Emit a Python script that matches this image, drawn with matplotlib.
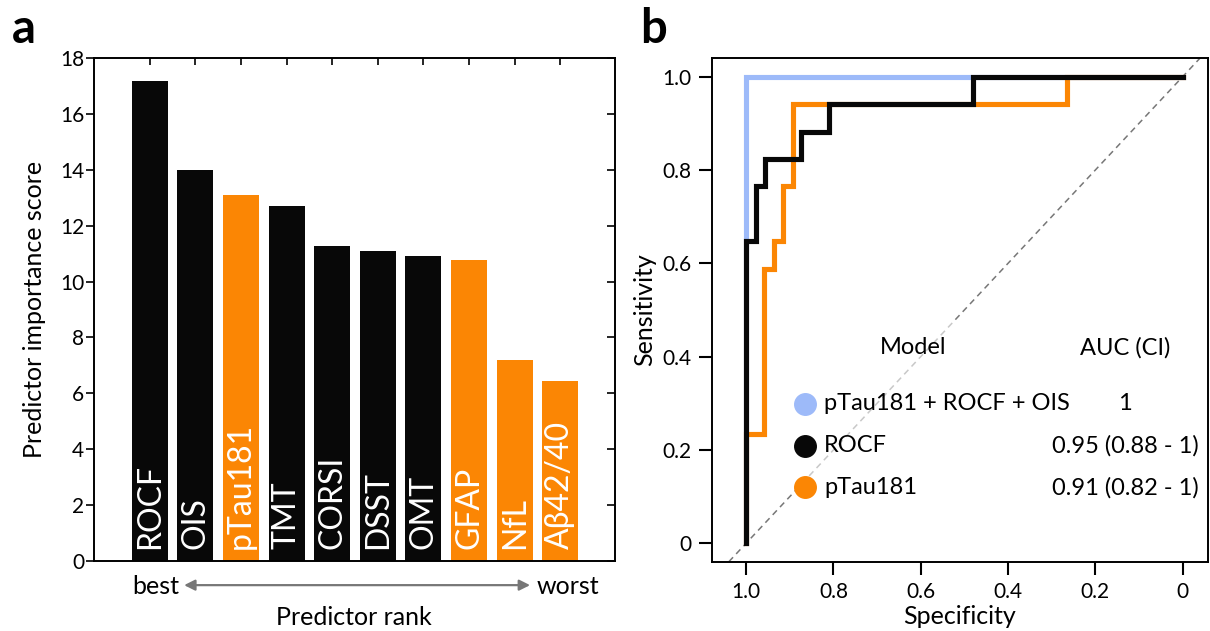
import matplotlib
matplotlib.use("Agg")
import matplotlib.pyplot as plt
from matplotlib.patches import Rectangle

plt.rcParams['font.family'] = ['Lato', 'DejaVu Sans']

# ---- panel a data ----
predictors = ['ROCF', 'OIS', 'pTau181', 'TMT', 'CORSI', 'DSST', 'OMT', 'GFAP', 'NfL', 'Aβ42/40']
importance = [17.18, 13.98, 13.1, 12.7, 11.27, 11.1, 10.9, 10.76, 7.19, 6.44]
is_blood = [False, False, True, False, False, False, False, True, True, True]

# ---- panel b data (ROC vertices: specificity, sensitivity) ----
combo_spec = [1.0, 1.0, 0.0]
combo_sens = [0.0, 1.0, 1.0]
rocf_spec = [1.0, 1.0, 0.977, 0.977, 0.957, 0.957, 0.874, 0.874, 0.81, 0.81, 0.48, 0.48, 0.0]
rocf_sens = [0.0, 0.647, 0.647, 0.765, 0.765, 0.824, 0.824, 0.882, 0.882, 0.941, 0.941, 1.0, 1.0]
ptau_spec = [1.0, 1.0, 0.959, 0.959, 0.936, 0.936, 0.916, 0.916, 0.893, 0.893, 0.265, 0.265, 0.0]
ptau_sens = [0.0, 0.235, 0.235, 0.588, 0.588, 0.647, 0.647, 0.765, 0.765, 0.941, 0.941, 1.0, 1.0]

model_names = ['pTau181 + ROCF + OIS', 'ROCF', 'pTau181']
model_auc = ['1', '0.95 (0.88 - 1)', '0.91 (0.82 - 1)']

BLACK = '#080808'
ORANGE = '#fb8604'
BLUE = '#9dbaf9'
GRAY = '#777777'

fig = plt.figure(figsize=(12.1, 6.31), dpi=100)

# ================= panel a =================
ax = fig.add_axes([94 / 1210, 1 - 561 / 631, 521 / 1210, 503 / 631])
x = list(range(1, len(predictors) + 1))
colors = [ORANGE if b else BLACK for b in is_blood]
ax.bar(x, importance, width=0.79, color=colors, edgecolor='none')

for xi, name in zip(x, predictors):
    ax.text(xi, 0.43, name, rotation=90, ha='center', va='bottom',
            color='white', fontsize=23)

ax.set_xlim(-0.22, 11.2)
ax.set_ylim(0, 18)
ax.set_yticks(range(0, 19, 2))
ax.set_xticks(x)
ax.tick_params(axis='y', direction='out', length=5.5, width=1.2, labelsize=15, pad=1.5)
ax.tick_params(axis='x', direction='in', bottom=False, top=True, labelbottom=False,
               length=5, width=1.2)
# inward ticks on the right spine
ax_r = ax.secondary_yaxis('right')
ax_r.set_yticks(range(0, 19, 2))
ax_r.tick_params(direction='in', length=5.5, width=1.2, labelright=False)
ax_r.spines['right'].set_visible(False)
for s in ax.spines.values():
    s.set_linewidth(1.4)

ax.set_ylabel('Predictor importance score', fontsize=18)
ax.yaxis.set_label_coords(-0.092, 0.5)

ax.text(0.118, -0.05, 'best', transform=ax.transAxes, ha='center', va='center', fontsize=18)
ax.text(0.91, -0.05, 'worst', transform=ax.transAxes, ha='center', va='center', fontsize=18)
ax.annotate('', xy=(0.837, -0.048), xytext=(0.173, -0.048), xycoords='axes fraction',
            arrowprops=dict(arrowstyle='<|-|>', color=GRAY, lw=1.6,
                            mutation_scale=16, shrinkA=0, shrinkB=0))
ax.text(0.499, -0.113, 'Predictor rank', transform=ax.transAxes, ha='center',
        va='center', fontsize=18)

# ================= panel b =================
bx = fig.add_axes([712 / 1210, 1 - 562 / 631, 496 / 1210, 504 / 631])
bx.plot([1.2, -0.2], [-0.2, 1.2], ls=(0, (4, 3)), color=GRAY, lw=1.1, zorder=1)
bx.add_patch(Rectangle((0.167, 0.133), 0.827, 0.347, transform=bx.transAxes,
                       facecolor='white', alpha=0.6, edgecolor='none', zorder=2))
bx.plot(combo_spec, combo_sens, color=BLUE, lw=3.7, zorder=3, solid_joinstyle='miter')
bx.plot(ptau_spec, ptau_sens, color=ORANGE, lw=3.7, zorder=4, solid_joinstyle='miter')
bx.plot(rocf_spec, rocf_sens, color=BLACK, lw=3.7, zorder=5, solid_joinstyle='miter')

bx.set_xlim(1.078, -0.058)
bx.set_ylim(-0.04, 1.04)
bx.set_xticks([1.0, 0.8, 0.6, 0.4, 0.2, 0.0])
bx.set_xticklabels(['1.0', '0.8', '0.6', '0.4', '0.2', '0'])
bx.set_yticks([0.0, 0.2, 0.4, 0.6, 0.8, 1.0])
bx.set_yticklabels(['0', '0.2', '0.4', '0.6', '0.8', '1.0'])
bx.tick_params(direction='out', length=9.5, width=1.5, labelsize=15, pad=5)
for s in bx.spines.values():
    s.set_linewidth(1.4)
bx.set_xlabel('Specificity', fontsize=18)
bx.xaxis.set_label_coords(0.5, -0.085)
bx.set_ylabel('Sensitivity', fontsize=18)
bx.yaxis.set_label_coords(-0.113, 0.5)

# legend table
bx.text(0.405, 0.425, 'Model', transform=bx.transAxes, ha='center', va='center', fontsize=17)
bx.text(0.833, 0.425, 'AUC (CI)', transform=bx.transAxes, ha='center', va='center', fontsize=17)
row_y = [0.3135, 0.2308, 0.148]
for yy, c, name, auc in zip(row_y, [BLUE, BLACK, ORANGE], model_names, model_auc):
    bx.plot([0.1875], [yy], 'o', color=c, ms=15.5, transform=bx.transAxes,
            clip_on=False, zorder=6)
    bx.text(0.226, yy, name, transform=bx.transAxes, ha='left', va='center', fontsize=17)
    bx.text(0.833, yy, auc, transform=bx.transAxes, ha='center', va='center', fontsize=17)

fig.text(12 / 1210, 1 - 43 / 631, 'a', fontsize=34, fontweight='bold', va='baseline')
fig.text(640 / 1210, 1 - 43 / 631, 'b', fontsize=34, fontweight='bold', va='baseline')

fig.savefig('out.png', dpi=100)
